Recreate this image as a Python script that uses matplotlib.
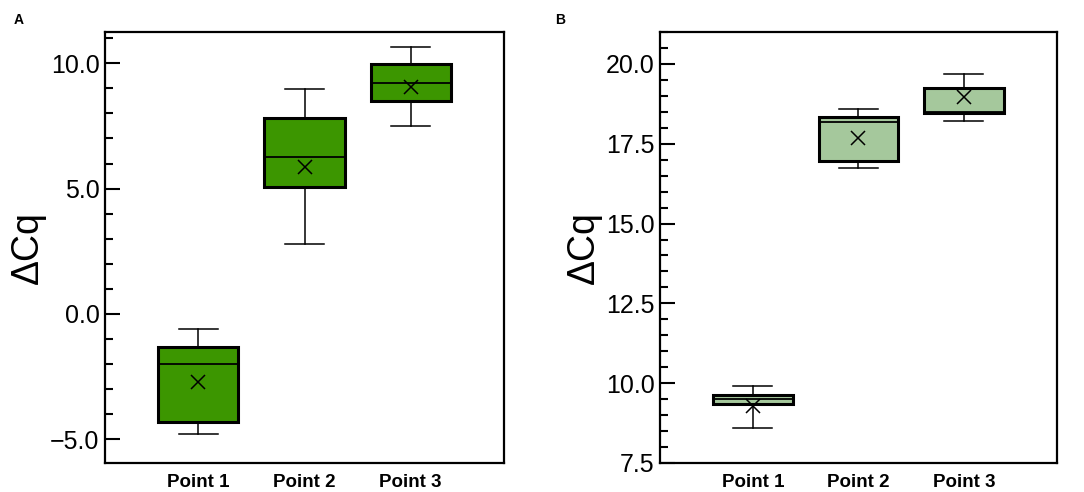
import matplotlib
matplotlib.use("Agg")
import matplotlib.pyplot as plt
from matplotlib.ticker import MultipleLocator, FuncFormatter

plt.rcParams['font.family'] = ['Liberation Sans', 'DejaVu Sans']

categories = ["Point 1", "Point 2", "Point 3"]

# Panel A
a_whislo = [-4.80, 2.77, 7.50]
a_q1 = [-4.32, 5.08, 8.51]
a_med = [-1.99, 6.26, 9.23]
a_q3 = [-1.33, 7.82, 9.98]
a_whishi = [-0.61, 8.97, 10.64]
a_mean = [-2.71, 5.88, 9.07]

# Panel B
b_whislo = [8.59, 16.75, 18.22]
b_q1 = [9.34, 16.97, 18.46]
b_med = [9.51, 18.18, 18.48]
b_q3 = [9.63, 18.35, 19.24]
b_whishi = [9.925, 18.60, 19.69]
b_mean = [9.30, 17.68, 18.96]

W, H = 1084, 492
fig = plt.figure(figsize=(W / 100, H / 100), dpi=100)

def make_axes(left_px, right_px):
    return fig.add_axes([left_px / W, 1 - 463 / H, (right_px - left_px) / W, (463 - 32) / H])

def fmt(v, pos):
    return ("%.1f" % v).replace("-", "\u2212")

def panel(ax, lo, q1, med, q3, hi, mean, color, ylim, major, minor):
    stats = []
    for i in range(len(categories)):
        stats.append(dict(label=categories[i], whislo=lo[i], q1=q1[i], med=med[i],
                          q3=q3[i], whishi=hi[i], mean=mean[i]))
    positions = list(range(1, len(categories) + 1))
    ax.bxp(stats, positions=positions, widths=0.755, patch_artist=True,
           showmeans=True, showfliers=False,
           boxprops=dict(facecolor=color, edgecolor='black', linewidth=2.2),
           medianprops=dict(color='black', linewidth=1.3),
           whiskerprops=dict(color='black', linewidth=1.1),
           capprops=dict(color='black', linewidth=1.1),
           capwidths=0.37,
           meanprops=dict(marker='x', markeredgecolor='black', markerfacecolor='none',
                          markersize=10, markeredgewidth=1.1))
    ax.set_xlim(0.12, 3.88)
    ax.set_ylim(*ylim)
    ax.set_xticks(positions)
    ax.set_xticklabels(categories, fontsize=13.5, fontweight='bold')
    ax.tick_params(axis='x', length=0, pad=8)
    ax.yaxis.set_major_locator(MultipleLocator(major))
    ax.yaxis.set_minor_locator(MultipleLocator(minor))
    ax.yaxis.set_major_formatter(FuncFormatter(fmt))
    ax.tick_params(axis='y', which='major', direction='in', length=11, width=1.5,
                   labelsize=18, pad=4)
    ax.tick_params(axis='y', which='minor', direction='in', length=6, width=1.5)
    for s in ax.spines.values():
        s.set_linewidth(1.6)
    ax.set_ylabel("ΔCq", fontsize=27, labelpad=3)

axA = make_axes(105, 504)
panel(axA, a_whislo, a_q1, a_med, a_q3, a_whishi, a_mean, '#3c9600',
      (-5.95, 11.25), 5.0, 1.0)
axB = make_axes(660, 1056.7)
panel(axB, b_whislo, b_q1, b_med, b_q3, b_whishi, b_mean, '#a5c89c',
      (7.5, 21.0), 2.5, 0.5)

fig.text(14 / W, 1 - 20 / H, "A", fontsize=10, fontweight='bold', va='center', ha='left')
fig.text(555 / W, 1 - 20 / H, "B", fontsize=10, fontweight='bold', va='center', ha='left')

fig.savefig("out.png", dpi=100)
